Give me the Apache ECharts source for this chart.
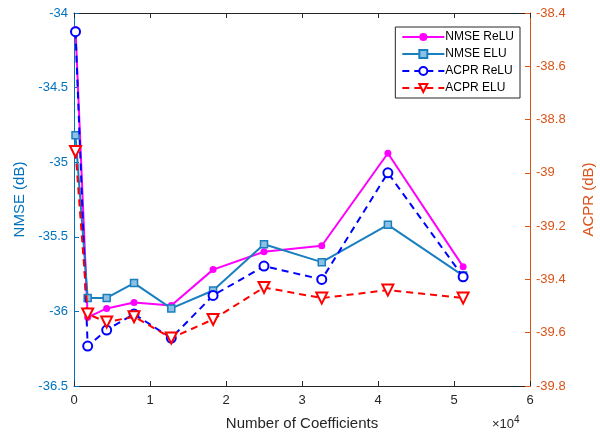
<!DOCTYPE html>
<html>
<head>
<meta charset="utf-8">
<script src="https://cdn.jsdelivr.net/npm/echarts@6/dist/echarts.min.js"></script>
<style>
  html, body { margin: 0; padding: 0; background: #fff; }
  #main { width: 600px; height: 436px; }
</style>
</head>
<body>
<div id="main"></div>
<script>
// 系数个数
const coefficients = [200, 1800, 4300, 7900, 12800, 18300, 25000, 32600, 41300, 51200];
// 左轴 NMSE (dB)
const nmseRelu = [-34.11, -36.04, -35.98, -35.94, -35.96, -35.72, -35.60, -35.56, -34.94, -35.70];
const nmseElu = [-34.82, -35.91, -35.91, -35.81, -35.98, -35.86, -35.55, -35.67, -35.42, -35.76];
// 右轴 ACPR (dB)
const acprRelu = [-38.47, -39.65, -39.59, -39.53, -39.62, -39.46, -39.35, -39.40, -39.00, -39.39];
const acprElu = [-38.92, -39.53, -39.56, -39.54, -39.62, -39.55, -39.43, -39.47, -39.44, -39.47];

const leftColor = '#0072BD';
const rightColor = '#D95319';
const axisGray = '#262626';
const fontFamily = '"Liberation Sans", Arial, Helvetica, sans-serif';

function pairs(ys) {
  return coefficients.map((x, i) => [x, ys[i]]);
}

function cleanNum(v) {
  return String(Number(v.toFixed(2)));
}

const chart = echarts.init(document.getElementById('main'), null, { renderer: 'canvas' });

const option = {
  backgroundColor: '#fff',
  animation: false,
  textStyle: { fontFamily: fontFamily },
  grid: { left: 74, right: 70, top: 13, bottom: 50, containLabel: false, outerBoundsMode: 'none' },
  legend: {
    orient: 'vertical',
    right: 80,
    top: 27,
    itemWidth: 42,
    itemHeight: 10,
    itemGap: 5,
    padding: [4, 6, 4, 6],
    borderColor: axisGray,
    borderWidth: 1,
    backgroundColor: '#fff',
    textStyle: { fontSize: 12, color: '#000', fontFamily: fontFamily, padding: [0, 0, 0, -4] },
    data: ['NMSE ReLU', 'NMSE ELU', 'ACPR ReLU', 'ACPR ELU']
  },
  xAxis: [
    {
      type: 'value',
      min: 0,
      max: 60000,
      interval: 10000,
      name: 'Number of Coefficients',
      nameLocation: 'middle',
      nameGap: 30,
      nameTextStyle: { fontSize: 15, color: axisGray },
      axisLine: { show: true, onZero: false, lineStyle: { color: axisGray, width: 1 } },
      axisTick: { show: true, inside: true, length: 5, lineStyle: { color: axisGray } },
      axisLabel: { color: axisGray, fontSize: 13, margin: 8, formatter: v => String(v / 10000) },
      splitLine: { show: false }
    },
    {
      type: 'value',
      position: 'top',
      min: 0,
      max: 60000,
      interval: 10000,
      axisLine: { show: true, onZero: false, lineStyle: { color: axisGray, width: 1 } },
      axisTick: { show: true, inside: true, length: 5, lineStyle: { color: axisGray } },
      axisLabel: { show: false },
      splitLine: { show: false }
    }
  ],
  yAxis: [
    {
      type: 'value',
      position: 'left',
      min: -36.5,
      max: -34,
      interval: 0.5,
      name: 'NMSE (dB)',
      nameLocation: 'middle',
      nameGap: 46,
      nameTextStyle: { fontSize: 15, color: leftColor },
      axisLine: { show: true, onZero: false, lineStyle: { color: leftColor, width: 1 } },
      axisTick: { show: true, inside: true, length: 5, lineStyle: { color: leftColor } },
      axisLabel: { color: leftColor, fontSize: 13, margin: 6, formatter: cleanNum },
      splitLine: { show: false }
    },
    {
      type: 'value',
      position: 'right',
      min: -39.8,
      max: -38.4,
      interval: 0.2,
      name: 'ACPR (dB)',
      nameLocation: 'middle',
      nameGap: 51,
      nameRotate: 90,
      nameTextStyle: { fontSize: 15, color: rightColor },
      axisLine: { show: true, onZero: false, lineStyle: { color: rightColor, width: 1 } },
      axisTick: { show: true, inside: true, length: 5, lineStyle: { color: rightColor } },
      axisLabel: { color: rightColor, fontSize: 13, margin: 6, formatter: cleanNum },
      splitLine: { show: false }
    }
  ],
  graphic: [
    {
      type: 'text',
      left: 492,
      top: 415,
      style: {
        text: '×10{sup|4}',
        fill: axisGray,
        font: '13px ' + fontFamily,
        rich: {
          sup: { fontSize: 10, verticalAlign: 'top', padding: [0, 0, 8, 0], fill: axisGray }
        }
      }
    }
  ],
  series: [
    {
      name: 'NMSE ReLU',
      type: 'line',
      xAxisIndex: 0,
      yAxisIndex: 0,
      data: pairs(nmseRelu),
      symbol: 'circle',
      symbolSize: 7,
      itemStyle: { color: '#FF00FF' },
      lineStyle: { color: '#FF00FF', width: 2 },
      z: 2
    },
    {
      name: 'NMSE ELU',
      type: 'line',
      xAxisIndex: 0,
      yAxisIndex: 0,
      data: pairs(nmseElu),
      symbol: 'rect',
      symbolSize: 7,
      itemStyle: { color: '#8cc0e4', borderColor: '#1a7fbf', borderWidth: 1.5 },
      lineStyle: { color: '#1a7fbf', width: 2 },
      z: 3
    },
    {
      name: 'ACPR ReLU',
      type: 'line',
      xAxisIndex: 0,
      yAxisIndex: 1,
      data: pairs(acprRelu),
      symbol: 'emptyCircle',
      symbolSize: 9,
      itemStyle: { color: '#0000FF', borderWidth: 2 },
      lineStyle: { color: '#0000FF', width: 2, type: [7, 5] },
      z: 4
    },
    {
      name: 'ACPR ELU',
      type: 'line',
      xAxisIndex: 0,
      yAxisIndex: 1,
      data: pairs(acprElu),
      symbol: 'emptyTriangle',
      symbolRotate: 180,
      symbolSize: 11,
      itemStyle: { color: '#FF0000', borderWidth: 2 },
      lineStyle: { color: '#FF0000', width: 2, type: [7, 5] },
      z: 5
    }
  ]
};

chart.setOption(option);
</script>
</body>
</html>
